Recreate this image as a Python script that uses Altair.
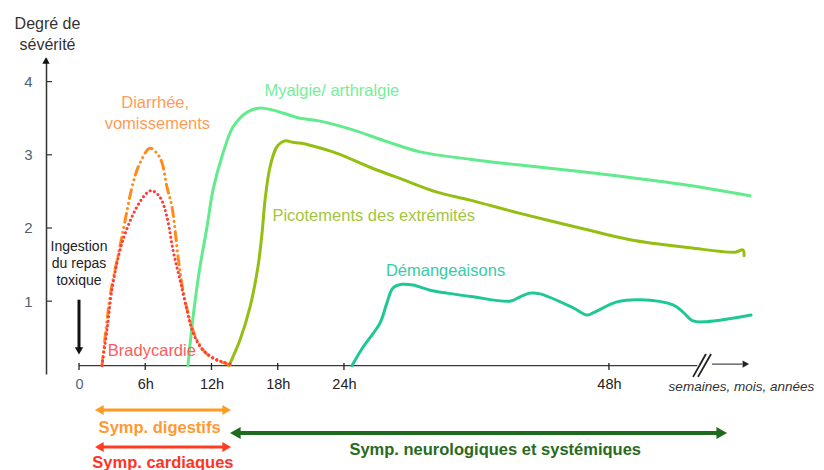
import altair as alt
import pandas as pd

FONT = "Liberation Sans"

# ---------------- data (hours after ingestion, severity degree) ----------------
myalgie_h = [9.87, 10.33, 10.96, 11.59, 12.14, 13.04, 13.95, 15.22, 16.39, 17.57, 19.11, 20.02,
             21.83, 24.82, 27.90, 30.89, 35.42, 39.95, 47.19, 54.44, 60.78]
myalgie_v = [0.12, 0.78, 1.47, 2.01, 2.52, 3.02, 3.38, 3.58, 3.64, 3.61, 3.54, 3.50,
             3.46, 3.34, 3.18, 3.04, 2.94, 2.86, 2.74, 2.60, 2.44]

picot_h = [13.59, 14.58, 15.49, 16.21, 16.58, 16.85, 17.30, 17.93, 18.66, 19.38, 20.02, 20.92,
           23.37, 26.36, 29.35, 32.43, 35.42, 39.95, 45.38, 49.91, 55.34, 59.42, 60.14, 60.24]
picot_v = [0.12, 0.47, 0.92, 1.47, 1.93, 2.38, 2.83, 3.11, 3.19, 3.17, 3.16, 3.13,
           3.02, 2.83, 2.66, 2.49, 2.38, 2.20, 2.00, 1.84, 1.73, 1.67, 1.70, 1.62]

demang_h = [24.73, 25.72, 27.26, 27.90, 28.44, 29.26, 30.25, 31.79, 33.33, 35.69, 39.04, 39.95,
            40.85, 41.76, 44.75, 46.01, 46.56, 48.73, 50.82, 53.80, 54.71, 55.62, 56.88, 60.87]
demang_v = [0.12, 0.37, 0.70, 0.98, 1.18, 1.23, 1.22, 1.15, 1.11, 1.06, 1.00, 1.06,
            1.11, 1.10, 0.91, 0.81, 0.84, 0.99, 1.02, 0.95, 0.85, 0.73, 0.72, 0.81]

diarr_h = [2.08, 2.54, 2.81, 3.08, 3.89, 4.89, 5.53, 6.43, 7.16, 7.52, 7.97, 8.42,
           8.97, 9.42, 10.05, 10.69, 11.87, 13.95]
diarr_v = [0.12, 0.74, 1.06, 1.29, 1.88, 2.61, 2.89, 3.09, 3.00, 2.89, 2.56, 2.29,
           1.61, 1.15, 0.74, 0.47, 0.24, 0.12]

brady_h = [2.08, 2.54, 3.08, 3.99, 5.25, 6.16, 6.61, 7.34, 7.97, 8.51, 9.15, 9.78,
           10.33, 11.23, 12.50, 13.68]
brady_v = [0.12, 0.61, 1.25, 1.84, 2.29, 2.48, 2.51, 2.42, 2.15, 1.70, 1.29, 0.88,
           0.57, 0.33, 0.20, 0.14]

x_ticks = [0, 6, 12, 18, 24, 48]
y_ticks = [1, 2, 3, 4]
y_title = ["Degré de", "sévérité"]

curve_label_text = ["Diarrhée,", "vomissements", "Myalgie/ arthralgie",
                    "Picotements des extrémités", "Démangeaisons", "Bradycardie"]
curve_label_h = [6.9, 7.1, 22.9, 26.7, 33.2, 6.6]
curve_label_v = [3.71, 3.42, 3.87, 2.16, 1.41, 0.32]
curve_label_color = ["#FF9C55", "#FF9C55", "#76EE98", "#A4C53C", "#36CCA8", "#FF5A5A"]

ingestion_text = ["Ingestion", "du repas", "toxique"]
ingestion_h = [0, 0, 0]
ingestion_v = [1.74, 1.51, 1.28]

sym_names = ["Symp. digestifs", "Symp. neurologiques et systémiques", "Symp. cardiaques"]
sym_start = [1.45, 13.68, 1.45]
sym_end = [13.77, 58.7, 13.77]
sym_text_h = [7.3, 37.7, 7.6]
sym_arrow_color = ["#FF9A22", "#1E6B1E", "#FF3B22"]
sym_text_color = ["#FF9A33", "#2A6A1C", "#FF3322"]

# ---------------- scales / axes ----------------
W, H = 710, 316
xs = alt.Scale(domain=[-2.989, 61.322], nice=False, zero=False)
ys = alt.Scale(domain=[0.005, 4.3224], nice=False, zero=False)

x_axis = alt.Axis(values=x_ticks, labelExpr="datum.value == 0 ? '0' : datum.value + 'h'",
                  domain=False, ticks=False, grid=False, offset=-8, labelPadding=11,
                  labelFont=FONT, labelFontSize=14.5,
                  labelColor={"expr": "datum.value == 0 ? '#4F6A80' : '#222222'"},
                  title=None, labelFlush=False)
y_axis = alt.Axis(values=y_ticks, ticks=False, grid=False, domain=True, domainColor="#333333",
                  domainWidth=1.5, labelFont=FONT, labelFontSize=15, labelColor="#4F6070",
                  labelPadding=14, title=y_title, titleAngle=0, titleX=1, titleY=-43,
                  titleAlign="center", titleBaseline="top", titleFont=FONT, titleFontSize=16,
                  titleFontWeight="normal", titleColor="#333333", titleLineHeight=21)


def X(f):
    return alt.X(f, scale=xs, axis=x_axis)


def Y(f):
    return alt.Y(f, scale=ys, axis=y_axis)


def line_layer(h, v, color, width=3.0, dash=None):
    df = pd.DataFrame({"h": h, "v": v, "i": list(range(len(h)))})
    props = dict(color=color, strokeWidth=width, strokeCap="round", strokeJoin="round",
                 interpolate="catmull-rom")
    if dash is not None:
        props["strokeDash"] = dash
    return alt.Chart(df).mark_line(**props).encode(x=X("h:Q"), y=Y("v:Q"), order="i:Q")


layers = []

# x axis line, ticks, break and arrow
layers.append(alt.Chart(pd.DataFrame({"h": [0.0], "h2": [56.0], "v": [0.12]}))
              .mark_rule(color="#3A3A3A", strokeWidth=1.3)
              .encode(x=X("h:Q"), x2=alt.X2("h2"), y=Y("v:Q")))
layers.append(alt.Chart(pd.DataFrame({"h": x_ticks}))
              .mark_rule(color="#222222", strokeWidth=1.3)
              .encode(x=X("h:Q"), y=alt.value(305), y2=alt.value(312)))
layers.append(alt.Chart(pd.DataFrame({"h": [55.62, 56.07], "h2": [56.79, 57.25],
                                      "v": [-0.035, -0.035], "v2": [0.279, 0.279]}))
              .mark_rule(color="#222222", strokeWidth=1.8)
              .encode(x=X("h:Q"), x2=alt.X2("h2"), y=Y("v:Q"), y2=alt.Y2("v2")))
layers.append(alt.Chart(pd.DataFrame({"h": [57.34], "h2": [60.1], "v": [0.14]}))
              .mark_rule(color="#444444", strokeWidth=1.2)
              .encode(x=X("h:Q"), x2=alt.X2("h2"), y=Y("v:Q")))
layers.append(alt.Chart(pd.DataFrame({"h": [60.4], "v": [0.14]}))
              .mark_point(shape="triangle-right", filled=True, size=55, color="#222222",
                          opacity=1, strokeWidth=0)
              .encode(x=X("h:Q"), y=Y("v:Q")))

# y axis ticks (inside) and arrow head
layers.append(alt.Chart(pd.DataFrame({"v": y_ticks}))
              .mark_rule(color="#333333", strokeWidth=1.2)
              .encode(y=Y("v:Q"), x=alt.value(0), x2=alt.value(6)))
layers.append(alt.Chart(pd.DataFrame({"v": [0]}))
              .mark_point(shape="triangle-up", filled=True, size=55, color="#111111",
                          opacity=1, strokeWidth=0)
              .encode(x=alt.value(0), y=alt.value(2.5)))

# curves
layers.append(line_layer(myalgie_h, myalgie_v, "#62EB8C", 3.0))
layers.append(line_layer(picot_h, picot_v, "#95BE12", 3.0))
layers.append(line_layer(demang_h, demang_v, "#1DC895", 3.0))
layers.append(line_layer(diarr_h, diarr_v, "#FF8C1A", 3.0, dash=[9, 5, 0.1, 5, 0.1, 5]))
layers.append(line_layer(brady_h, brady_v, "#FF3B3B", 3.0, dash=[0.1, 4.4]))

# curve labels
lab_df = pd.DataFrame({"t": curve_label_text, "h": curve_label_h, "v": curve_label_v,
                       "c": curve_label_color})
layers.append(alt.Chart(lab_df)
              .mark_text(font=FONT, fontSize=16.5, align="center", baseline="middle")
              .encode(x=X("h:Q"), y=Y("v:Q"), text="t:N", color=alt.Color("c:N", scale=None)))

# ingestion annotation
ing_df = pd.DataFrame({"t": ingestion_text, "h": ingestion_h, "v": ingestion_v})
layers.append(alt.Chart(ing_df)
              .mark_text(font=FONT, fontSize=14, align="center", baseline="middle", color="#222222")
              .encode(x=X("h:Q"), y=Y("v:Q"), text="t:N"))
layers.append(alt.Chart(pd.DataFrame({"h": [0.0], "v": [1.02], "v2": [0.36]}))
              .mark_rule(color="#111111", strokeWidth=3)
              .encode(x=X("h:Q"), y=Y("v:Q"), y2=alt.Y2("v2")))
layers.append(alt.Chart(pd.DataFrame({"h": [0.0], "v": [0.32]}))
              .mark_point(shape="triangle-down", filled=True, size=70, color="#111111",
                          opacity=1, strokeWidth=0)
              .encode(x=X("h:Q"), y=Y("v:Q")))

# long-term label
layers.append(alt.Chart(pd.DataFrame({"h": [60.0], "t": ["semaines, mois, années"]}))
              .mark_text(font=FONT, fontSize=13.5, fontStyle="italic", align="center",
                         baseline="middle", color="#333333")
              .encode(x=X("h:Q"), y=alt.value(329), text="t:N"))

# symptom period arrows
arrow_y = [352, 375, 389]
text_y = [370, 392, 405]
head_size = [100, 150, 100]
line_w = [3, 4, 3]
for i in range(len(sym_names)):
    d = pd.DataFrame({"h1": [sym_start[i]], "h2": [sym_end[i]], "ht": [sym_text_h[i]],
                      "t": [sym_names[i]]})
    base = alt.Chart(d)
    off = (head_size[i] ** 0.5) * 0.433
    layers.append(base.mark_rule(color=sym_arrow_color[i], strokeWidth=line_w[i],
                                 xOffset=off, x2Offset=-off)
                  .encode(x=X("h1:Q"), x2=alt.X2("h2"), y=alt.value(arrow_y[i])))
    layers.append(base.mark_point(shape="triangle-left", filled=True, size=head_size[i],
                                  color=sym_arrow_color[i], opacity=1, strokeWidth=0, xOffset=off)
                  .encode(x=X("h1:Q"), y=alt.value(arrow_y[i])))
    layers.append(base.mark_point(shape="triangle-right", filled=True, size=head_size[i],
                                  color=sym_arrow_color[i], opacity=1, strokeWidth=0, xOffset=-off)
                  .encode(x=X("h2:Q"), y=alt.value(arrow_y[i])))
    layers.append(base.mark_text(font=FONT, fontSize=16.5, fontWeight="bold", align="center",
                                 baseline="middle", color=sym_text_color[i])
                  .encode(x=X("ht:Q"), y=alt.value(text_y[i]), text="t:N"))

chart = (alt.layer(*layers)
         .properties(width=W, height=H, autosize="none", background="white",
                     padding={"left": 38, "top": 50, "right": 60, "bottom": 96})
         .configure_view(stroke=None))

chart.save("out.html", embed_options={"renderer": "svg", "actions": False})
